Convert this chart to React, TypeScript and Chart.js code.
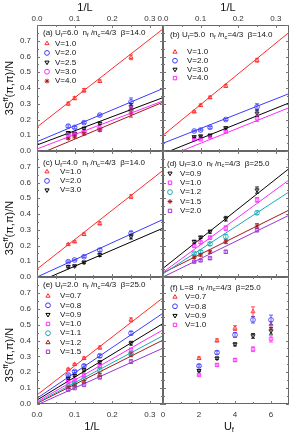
import React, { useEffect, useRef } from 'react';
import { Chart, registerables } from 'chart.js';
import { drawPoint } from 'chart.js/helpers';
Chart.register(...registerables);

const W = 301, H = 436;
const FAMILY = '"Liberation Sans", Arial, Helvetica, sans-serif';

// ---- shared x values ----
const invL = [0.083, 0.1, 0.125, 0.167, 0.25];
const ufVals = [2, 3, 4, 5, 6];
const fitX = [0, 0.335];

// ---- colours ----
const RED = '#ff2a2a', BLUE = '#3a3aff', BLACK = '#000000', MAGENTA = '#ff2aff',
  CYAN = '#1fa8b8', DARKRED = '#a01c1c', PURPLE = '#9a34d4';

// ---- (a) Uf=6.0 beta=14 ----
const aV10 = [0.300, 0.335, 0.385, 0.443, 0.595];
const aV20 = [0.158, 0.150, 0.180, 0.228, 0.312];
const aV25 = [0.116, 0.110, 0.144, 0.175, 0.280];
const aV30 = [0.105, 0.110, 0.120, 0.143, 0.260];
const aV40 = [0.080, 0.090, 0.110, 0.133, 0.240];
const aE10 = [0.010, 0.010, 0.012, 0.008, 0.015];
const aE20 = [0.008, 0.006, 0.006, 0.006, 0.025];
const aE25 = [0.008, 0.006, 0.006, 0.008, 0.020];
const aE30 = [0.006, 0.006, 0.006, 0.006, 0.020];
const aE40 = [0.006, 0.006, 0.008, 0.008, 0.025];
const aF10 = [0.152, 0.775];
const aF20 = [0.059, 0.397];
const aF25 = [0.038, 0.339];
const aF30 = [0.013, 0.318];
const aF40 = [-0.025, 0.310];

// ---- (b) Uf=5.0 beta=14 ----
const bV10 = [0.249, 0.290, 0.340, 0.413, 0.576];
const bV20 = [0.127, 0.133, 0.150, 0.200, 0.280];
const bV30 = [0.090, 0.095, 0.100, 0.147, 0.240];
const bV40 = [0.074, 0.074, 0.090, 0.122, 0.207];
const bE10 = [0.006, 0.008, 0.008, 0.010, 0.012];
const bE20 = [0.005, 0.005, 0.006, 0.006, 0.020];
const bE30 = [0.005, 0.005, 0.006, 0.006, 0.020];
const bE40 = [0.005, 0.005, 0.005, 0.006, 0.020];
const bF10 = [0.100, 0.753];
const bF20 = [0.049, 0.364];
const bF30 = [-0.017, 0.305];
const bF40 = [-0.047, 0.275];

// ---- (c) Uf=4.0 beta=14 ----
const cV10 = [0.207, 0.224, 0.271, 0.340, 0.510];
const cV20 = [0.097, 0.108, 0.129, 0.171, 0.277];
const cV30 = [0.065, 0.070, 0.093, 0.140, 0.256];
const cE10 = [0.006, 0.006, 0.008, 0.010, 0.012];
const cE20 = [0.005, 0.005, 0.006, 0.010, 0.015];
const cE30 = [0.006, 0.006, 0.008, 0.010, 0.015];
const cF10 = [0.050, 0.677];
const cF20 = [0.000, 0.365];
const cF30 = [-0.035, 0.310];

// ---- (d) Uf=3.0 beta=25 ----
const dV09 = [0.224, 0.252, 0.288, 0.370, 0.552];
const dV10 = [0.197, 0.220, 0.250, 0.310, 0.490];
const dV12 = [0.150, 0.160, 0.210, 0.256, 0.408];
const dV15 = [0.125, 0.140, 0.160, 0.224, 0.324];
const dV20 = [0.097, 0.105, 0.119, 0.160, 0.298];
const dE09 = [0.010, 0.008, 0.010, 0.015, 0.020];
const dE10 = [0.008, 0.008, 0.010, 0.015, 0.015];
const dE12 = [0.008, 0.008, 0.010, 0.015, 0.012];
const dE15 = [0.008, 0.008, 0.010, 0.012, 0.015];
const dE20 = [0.006, 0.006, 0.008, 0.010, 0.012];
const dF09 = [0.055, 0.688];
const dF10 = [0.030, 0.616];
const dF12 = [0.020, 0.540];
const dF15 = [0.026, 0.425];
const dF20 = [0.000, 0.392];

// ---- (e) Uf=2.0 beta=25 ----
const eV07 = [0.219, 0.250, 0.288, 0.355, 0.530];
const eV08 = [0.183, 0.205, 0.240, 0.303, 0.446];
const eV09 = [0.162, 0.180, 0.214, 0.263, 0.383];
const eV10 = [0.141, 0.151, 0.183, 0.240, 0.340];
const eV11 = [0.113, 0.130, 0.156, 0.214, 0.320];
const eV12 = [0.105, 0.120, 0.140, 0.183, 0.310];
const eV15 = [0.090, 0.100, 0.120, 0.168, 0.267];
const eE = [0.006, 0.006, 0.008, 0.010, 0.012];
const eF07 = [0.057, 0.669];
const eF08 = [0.036, 0.572];
const eF09 = [0.025, 0.507];
const eF10 = [0.015, 0.467];
const eF11 = [0.008, 0.430];
const eF12 = [0.004, 0.403];
const eF15 = [-0.006, 0.352];

// ---- (f) L=8 beta=25, x = Uf ----
const fV07 = [0.288, 0.400, 0.478, 0.582, 0.500];
const fV08 = [0.240, 0.324, 0.435, 0.530, 0.530];
const fV09 = [0.210, 0.288, 0.376, 0.429, 0.460];
const fV10 = [0.183, 0.246, 0.277, 0.345, 0.410];
const fE07 = [0.008, 0.010, 0.015, 0.030, 0.020];
const fE08 = [0.008, 0.010, 0.015, 0.020, 0.030];
const fE09 = [0.006, 0.008, 0.010, 0.015, 0.020];
const fE10 = [0.006, 0.008, 0.010, 0.015, 0.020];

type Part = [string, number]; // 0 normal, 1 sub, 2 sup
const header = (tag: string, first: Part[], beta: string): Part[] => [
  [tag + ' ', 0], ...first, ['  n', 0], ['f', 1], [' /n', 0], ['c', 1], ['=4/3  \u03b2=' + beta, 0],
];

const S = (label: string, y: number[], color: string, style: string, rot: number, err?: number[], fit?: number[]) =>
  ({ label, y, color, style, rot, err, fit });

const panels = [
  {
    id: 'a', rect: [37, 25, 163, 151], x: invL, xMax: 0.335, xStep: 0.1, xPos: 'top', xLabels: true, yLabels: true,
    head: header('(a)', [['U', 0], ['f', 1], ['=6.0', 0]], '14.0'),
    leg: { hx: 43, hy: 33, mx: 47, tx: 55, y0: 43.5, dy: 9.4 },
    series: [
      S('V=1.0', aV10, RED, 'triangle', 0, aE10, aF10),
      S('V=2.0', aV20, BLUE, 'circle', 0, aE20, aF20),
      S('V=2.5', aV25, BLACK, 'triangle', 180, aE25, aF25),
      S('V=3.0', aV30, MAGENTA, 'circle', 0, aE30, aF30),
      S('V=4.0', aV40, DARKRED, 'star', 0, aE40, aF40),
    ],
  },
  {
    id: 'b', rect: [163, 25, 289, 151], x: invL, xMax: 0.335, xStep: 0.1, xPos: 'top', xLabels: true, yLabels: false,
    head: header('(b)', [['U', 0], ['f', 1], ['=5.0', 0]], '14.0'),
    leg: { hx: 170, hy: 35, mx: 175, tx: 187, y0: 52, dy: 8.7 },
    series: [
      S('V=1.0', bV10, RED, 'triangle', 0, bE10, bF10),
      S('V=2.0', bV20, BLUE, 'circle', 0, bE20, bF20),
      S('V=3.0', bV30, BLACK, 'triangle', 180, bE30, bF30),
      S('V=4.0', bV40, MAGENTA, 'rect', 0, bE40, bF40),
    ],
  },
  {
    id: 'c', rect: [37, 151, 163, 277], x: invL, xMax: 0.335, xStep: 0.1, xPos: 'bottom', xLabels: false, yLabels: true,
    head: header('(c)', [['U', 0], ['f', 1], ['=4.0', 0]], '14.0'),
    leg: { hx: 43, hy: 162.7, mx: 47, tx: 60, y0: 171.7, dy: 9.2 },
    series: [
      S('V=1.0', cV10, RED, 'triangle', 0, cE10, cF10),
      S('V=2.0', cV20, BLUE, 'circle', 0, cE20, cF20),
      S('V=3.0', cV30, BLACK, 'triangle', 180, cE30, cF30),
    ],
  },
  {
    id: 'd', rect: [163, 151, 289, 277], x: invL, xMax: 0.335, xStep: 0.1, xPos: 'bottom', xLabels: false, yLabels: false,
    head: header('(d)', [['U', 0], ['f', 1], ['=3.0', 0]], '25.0'),
    leg: { hx: 167, hy: 163.3, mx: 170, tx: 180, y0: 173.3, dy: 9.4 },
    series: [
      S('V=0.9', dV09, BLACK, 'triangle', 180, dE09, dF09),
      S('V=1.0', dV10, MAGENTA, 'rect', 0, dE10, dF10),
      S('V=1.2', dV12, CYAN, 'circle', 0, dE12, dF12),
      S('V=1.5', dV15, DARKRED, 'star', 0, dE15, dF15),
      S('V=2.0', dV20, PURPLE, 'rect', 0, dE20, dF20),
    ],
  },
  {
    id: 'e', rect: [37, 277, 163, 404], x: invL, xMax: 0.335, xStep: 0.1, xPos: 'bottom', xLabels: true, yLabels: true,
    head: header('(e)', [['U', 0], ['f', 1], ['=2.0', 0]], '25.0'),
    leg: { hx: 43, hy: 285, mx: 48, tx: 60, y0: 296, dy: 9.3 },
    series: [
      S('V=0.7', eV07, RED, 'triangle', 0, eE, eF07),
      S('V=0.8', eV08, BLUE, 'circle', 0, eE, eF08),
      S('V=0.9', eV09, BLACK, 'triangle', 180, eE, eF09),
      S('V=1.0', eV10, MAGENTA, 'rect', 0, eE, eF10),
      S('V=1.1', eV11, CYAN, 'circle', 0, eE, eF11),
      S('V=1.2', eV12, DARKRED, 'triangle', 0, eE, eF12),
      S('V=1.5', eV15, PURPLE, 'rect', 0, eE, eF15),
    ],
  },
  {
    id: 'f', rect: [163, 277, 289, 404], x: ufVals, xMax: 7, xStep: 2, xPos: 'bottom', xLabels: true, yLabels: false,
    head: [['(f) L=8', 0], ['  n', 0], ['f', 1], [' /n', 0], ['c', 1], ['=4/3  \u03b2=25.0', 0]] as Part[],
    leg: { hx: 170, hy: 287.3, mx: 175, tx: 185, y0: 297, dy: 9.3 },
    series: [
      S('V=0.7', fV07, RED, 'triangle', 0, fE07),
      S('V=0.8', fV08, BLUE, 'circle', 0, fE08),
      S('V=0.9', fV09, BLACK, 'triangle', 180, fE09),
      S('V=1.0', fV10, MAGENTA, 'rect', 0, fE10),
    ],
  },
];

function richWidth(ctx: CanvasRenderingContext2D, parts: Part[], size: number) {
  let w = 0;
  for (const [t, k] of parts) {
    ctx.font = `${k ? size * 0.72 : size}px ${FAMILY}`;
    w += ctx.measureText(t).width;
  }
  return w;
}
function drawRich(ctx: CanvasRenderingContext2D, x: number, y: number, parts: Part[], size: number) {
  let cx = x;
  for (const [t, k] of parts) {
    ctx.font = `${k ? size * 0.72 : size}px ${FAMILY}`;
    const dy = k === 1 ? size * 0.3 : k === 2 ? -size * 0.38 : 0;
    ctx.fillText(t, cx, y + dy);
    cx += ctx.measureText(t).width;
  }
}

const yTitle: Part[] = [['3S', 0], ['ff', 2], ['(\u03c0,\u03c0)/N', 0]];

function drawYTitle(ctx: CanvasRenderingContext2D, x: number, y: number) {
  ctx.save();
  ctx.translate(x, y);
  ctx.rotate(-Math.PI / 2);
  ctx.textBaseline = 'middle';
  ctx.textAlign = 'left';
  ctx.fillStyle = '#111';
  const w = richWidth(ctx, yTitle, 11);
  drawRich(ctx, -w / 2, 0, yTitle, 11);
  ctx.restore();
}
function drawCenteredRich(ctx: CanvasRenderingContext2D, x: number, y: number, parts: Part[], size: number) {
  ctx.save();
  ctx.textBaseline = 'middle';
  ctx.textAlign = 'left';
  ctx.fillStyle = '#111';
  const w = richWidth(ctx, parts, size);
  drawRich(ctx, x - w / 2, y, parts, size);
  ctx.restore();
}

function decoPlugin(p: any) {
  return {
    id: 'deco' + p.id,
    afterDatasetsDraw(chart: any) {
      const ctx: CanvasRenderingContext2D = chart.ctx;
      const { left, right, top, bottom } = chart.chartArea;
      const xs = chart.scales.x, ys = chart.scales.y;
      ctx.save();
      // error bars
      chart.data.datasets.forEach((ds: any) => {
        const errs = ds.errors;
        if (!errs) return;
        ctx.strokeStyle = ds.borderColor;
        ctx.lineWidth = 0.8;
        ds.data.forEach((pt: any, j: number) => {
          const e = errs[j];
          if (!e) return;
          const px = xs.getPixelForValue(pt.x);
          const y1 = ys.getPixelForValue(pt.y - e), y2 = ys.getPixelForValue(pt.y + e);
          ctx.beginPath();
          ctx.moveTo(px, y1); ctx.lineTo(px, y2);
          ctx.moveTo(px - 2, y1); ctx.lineTo(px + 2, y1);
          ctx.moveTo(px - 2, y2); ctx.lineTo(px + 2, y2);
          ctx.stroke();
        });
      });
      // frame
      ctx.strokeStyle = '#666';
      ctx.lineWidth = 1;
      ctx.strokeRect(left + 0.5, top + 0.5, right - left - 1, bottom - top - 1);
      // ticks (inward)
      ctx.strokeStyle = '#777';
      ctx.beginPath();
      const xt = xs.ticks.map((t: any) => t.value);
      xt.forEach((v: number) => {
        const px = Math.round(xs.getPixelForValue(v)) + 0.5;
        ctx.moveTo(px, top); ctx.lineTo(px, top + 3);
        ctx.moveTo(px, bottom); ctx.lineTo(px, bottom - 3);
        const mv = v + p.xStep / 2;
        if (mv < p.xMax) {
          const mx = Math.round(xs.getPixelForValue(mv)) + 0.5;
          ctx.moveTo(mx, top); ctx.lineTo(mx, top + 2);
          ctx.moveTo(mx, bottom); ctx.lineTo(mx, bottom - 2);
        }
      });
      ys.ticks.forEach((t: any) => {
        const v = t.value;
        const py = Math.round(ys.getPixelForValue(v)) + 0.5;
        ctx.moveTo(left, py); ctx.lineTo(left + 3, py);
        ctx.moveTo(right, py); ctx.lineTo(right - 3, py);
        const mv = v + 0.05;
        if (mv < 0.8) {
          const my = Math.round(ys.getPixelForValue(mv)) + 0.5;
          ctx.moveTo(left, my); ctx.lineTo(left + 2, my);
          ctx.moveTo(right, my); ctx.lineTo(right - 2, my);
        }
      });
      ctx.stroke();
      // legend
      ctx.textBaseline = 'middle';
      ctx.textAlign = 'left';
      ctx.fillStyle = '#111';
      drawRich(ctx, p.leg.hx, p.leg.hy, p.head, 8);
      p.series.forEach((s: any, k: number) => {
        const y = p.leg.y0 + k * p.leg.dy;
        ctx.strokeStyle = s.color;
        ctx.fillStyle = 'rgba(0,0,0,0)';
        drawPoint(ctx, { pointStyle: s.style, rotation: s.rot, radius: 2.4, borderWidth: 0.8 } as any, p.leg.mx, y);
        ctx.fillStyle = '#111';
        ctx.font = `8px ${FAMILY}`;
        ctx.fillText(s.label, p.leg.tx, y);
      });
      // axis titles
      if (p.id === 'a') { drawCenteredRich(ctx, 85, 8, [['1/L', 0]], 11); drawYTitle(ctx, 10, 88); }
      if (p.id === 'b') drawCenteredRich(ctx, 228, 8, [['1/L', 0]], 11);
      if (p.id === 'c') drawYTitle(ctx, 10, 228);
      if (p.id === 'e') { drawCenteredRich(ctx, 92, 427, [['1/L', 0]], 11); drawYTitle(ctx, 10, 355); }
      if (p.id === 'f') drawCenteredRich(ctx, 229, 427, [['U', 0], ['f', 1]], 11);
      ctx.restore();
    },
  };
}

function buildConfig(p: any): any {
  const datasets: any[] = [];
  p.series.forEach((s: any) => {
    if (s.fit) {
      datasets.push({
        data: fitX.map((x, i) => ({ x, y: s.fit[i] })), showLine: true, borderColor: s.color,
        borderWidth: 1, pointRadius: 0, fill: false,
      });
    }
  });
  p.series.forEach((s: any) => {
    datasets.push({
      label: s.label, data: p.x.map((x: number, i: number) => ({ x, y: s.y[i] })), showLine: false,
      pointStyle: s.style, rotation: s.rot, pointRadius: 2.4, borderColor: s.color,
      backgroundColor: 'rgba(0,0,0,0)', borderWidth: 0.8, errors: s.err,
    });
  });
  const [x0, y0, x1, y1] = p.rect;
  const xTop = p.xPos === 'top';
  const xBoxH = xTop ? y0 : H - y1;
  const tickFont = { size: 8, family: FAMILY };
  return {
    type: 'scatter',
    data: { datasets },
    options: {
      responsive: false, animation: false, events: [], devicePixelRatio: 1,
      layout: { padding: { left: 0, top: xTop ? 0 : y0, right: W - x1, bottom: xTop ? H - y1 : 0 } },
      plugins: { legend: { display: false }, tooltip: { enabled: false } },
      scales: {
        x: {
          type: 'linear', position: p.xPos, min: 0, max: p.xMax,
          afterFit: (s: any) => { s.height = xBoxH; },
          grid: { display: false, drawTicks: false }, border: { display: false },
          ticks: {
            display: p.xLabels, stepSize: p.xStep, includeBounds: false, padding: xTop ? 1 : 6,
            font: tickFont, color: '#333', maxRotation: 0, autoSkip: false,
            callback: (v: number) => (p.xStep === 2 ? String(Math.round(v)) : v.toFixed(1)),
          },
        },
        y: {
          type: 'linear', position: 'left', min: 0, max: 0.8,
          afterFit: (s: any) => { s.width = x0; },
          grid: { display: false, drawTicks: false }, border: { display: false },
          ticks: {
            display: p.yLabels, stepSize: 0.1, padding: 6, font: tickFont, color: '#333', autoSkip: false,
            callback: (v: number) => (v > 0.75 ? '' : v.toFixed(1)),
          },
        },
      },
    },
    plugins: [decoPlugin(p)],
  };
}

function Panel({ p }: { p: any }) {
  const ref = useRef<HTMLCanvasElement>(null);
  useEffect(() => {
    const chart = new Chart(ref.current as HTMLCanvasElement, buildConfig(p));
    return () => chart.destroy();
  }, [p]);
  return (
    <canvas ref={ref} width={W} height={H}
      style={{ position: 'absolute', left: 0, top: 0, width: W, height: H }} />
  );
}

export default function App() {
  return (
    <div style={{ position: 'fixed', left: 0, top: 0, width: W, height: H, background: '#fff' }}>
      {panels.map((p) => <Panel key={p.id} p={p} />)}
    </div>
  );
}
